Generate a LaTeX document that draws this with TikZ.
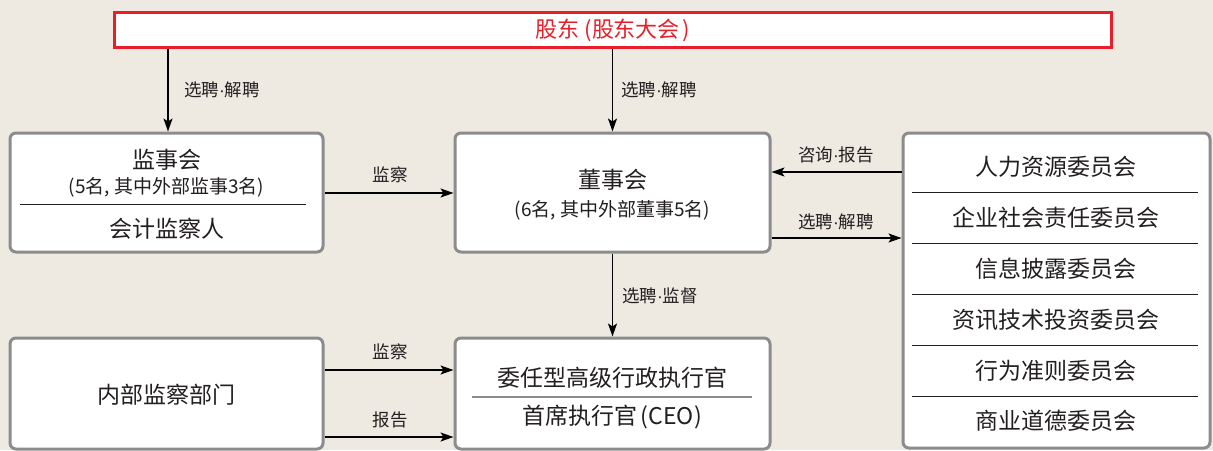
\documentclass[tikz,border=0pt]{standalone}
\usepackage{fontspec}
\setmainfont{Noto Sans CJK SC}
\newfontfamily\latinf{Liberation Sans}
\newcommand{\mdot}{{\latinf\char"00B7}}
\usetikzlibrary{arrows.meta}
\definecolor{bgc}{RGB}{238,234,226}
\definecolor{redc}{RGB}{232,30,42}
\definecolor{boxc}{RGB}{140,140,140}
\definecolor{txtc}{RGB}{35,31,32}
\tikzset{
  box/.style={rectangle, rounded corners=6pt,
    draw=boxc, line width=3pt, fill=white, inner sep=0pt},
  main/.style={font=\fontsize{23}{25}\selectfont, text=txtc, inner sep=0pt},
  sub/.style={font=\fontsize{19}{21}\selectfont, text=txtc, inner sep=0pt},
  lab/.style={font=\fontsize{17.5}{19}\selectfont, text=txtc, inner sep=0pt},
  arr/.style={-{Stealth[length=13pt,width=9pt,inset=3pt]}, line width=1.6pt, draw=black},
  sep/.style={line width=1pt, draw=txtc}
}
\begin{document}
\begin{tikzpicture}[x=1pt,y=-1pt]
\fill[bgc] (0,0) rectangle (1213,450);
\useasboundingbox (0,0) rectangle (1213,450);

% top
\node[draw=redc, line width=3pt, fill=white, minimum width=997pt, minimum height=35pt, inner sep=0pt] (gd) at (612.5,29.5) {};
\node[font=\fontsize{22}{24}\selectfont, text=redc, inner sep=0pt] (gdt) at (612.5,30) {股东\hspace{5pt}(股东大会\hspace{2pt})};

% boxes
\node[box, minimum width=313pt, minimum height=119pt] (jsh) at (166.5,192.5) {};
\node[box, minimum width=315pt, minimum height=119pt] (dsh) at (612.5,192.5) {};
\node[box, minimum width=307pt, minimum height=315pt] (wyh) at (1056.5,290.5) {};
\node[box, minimum width=315pt, minimum height=111pt] (ceo) at (612.5,393.5) {};
\node[box, minimum width=313pt, minimum height=111pt] (nb) at (166.5,393.5) {};

% texts
\node[main] (jsh1) at (166.5,160) {监事会};
\node[sub] (jsh2) at (166.5,187) {(5名, 其中外部监事3名)};
\draw[sep] (20,204) -- (306,204);
\node[main] (jsh3) at (166.5,229) {会计监察人};

\node[main] (dsh1) at (612.5,180) {董事会};
\node[sub] (dsh2) at (612.5,210) {(6名, 其中外部董事5名)};

\node[main] (w1) at (1056,167) {人力资源委员会};
\draw[sep] (912,192.5) -- (1198,192.5);
\node[main] (w2) at (1056,218) {企业社会责任委员会};
\draw[sep] (912,243.5) -- (1198,243.5);
\node[main] (w3) at (1056,269) {信息披露委员会};
\draw[sep] (912,294.5) -- (1198,294.5);
\node[main] (w4) at (1056,320) {资讯技术投资委员会};
\draw[sep] (912,345.5) -- (1198,345.5);
\node[main] (w5) at (1056,371) {行为准则委员会};
\draw[sep] (912,396.5) -- (1198,396.5);
\node[main] (w6) at (1056,421) {商业道德委员会};

\node[main] (c1) at (612.5,378) {委任型高级行政执行官};
\draw[line width=1.2pt, draw=boxc] (472,397) -- (752,397);
\node[main] (c2) at (612.5,417) {首席执行官\hspace{3pt}(CEO\hspace{1pt})};

\node[main] (nb1) at (166.5,395) {内部监察部门};

% connectors
\draw[arr] (gd.south -| jsh.north) ++(1.5,0) coordinate (a1) -- (a1 |- jsh.north);
\node[lab] (l1) at (222,90) {选聘\mdot 解聘};
\draw[arr] (gd.south) -- (dsh.north);
\node[lab] (l2) at (659,90) {选聘\mdot 解聘};

\draw[arr] (jsh.east |- 0,193) -- (dsh.west |- 0,193);
\node[lab] (l3) at (390,175) {监察};

\draw[arr] (wyh.west |- 0,172) -- (dsh.east |- 0,172);
\node[lab] (l4) at (836,155) {咨询\mdot 报告};
\draw[arr] (dsh.east |- 0,238) -- (wyh.west |- 0,238);
\node[lab] (l5) at (836,222) {选聘\mdot 解聘};

\draw[arr] (dsh.south) -- (ceo.north);
\node[lab] (l6) at (660,296) {选聘\mdot 监督};

\draw[arr] (nb.east |- 0,370) -- (ceo.west |- 0,370);
\node[lab] (l7) at (390,352) {监察};
\draw[arr] (nb.east |- 0,437) -- (ceo.west |- 0,437);
\node[lab] (l8) at (390,420) {报告};
\end{tikzpicture}
\end{document}
